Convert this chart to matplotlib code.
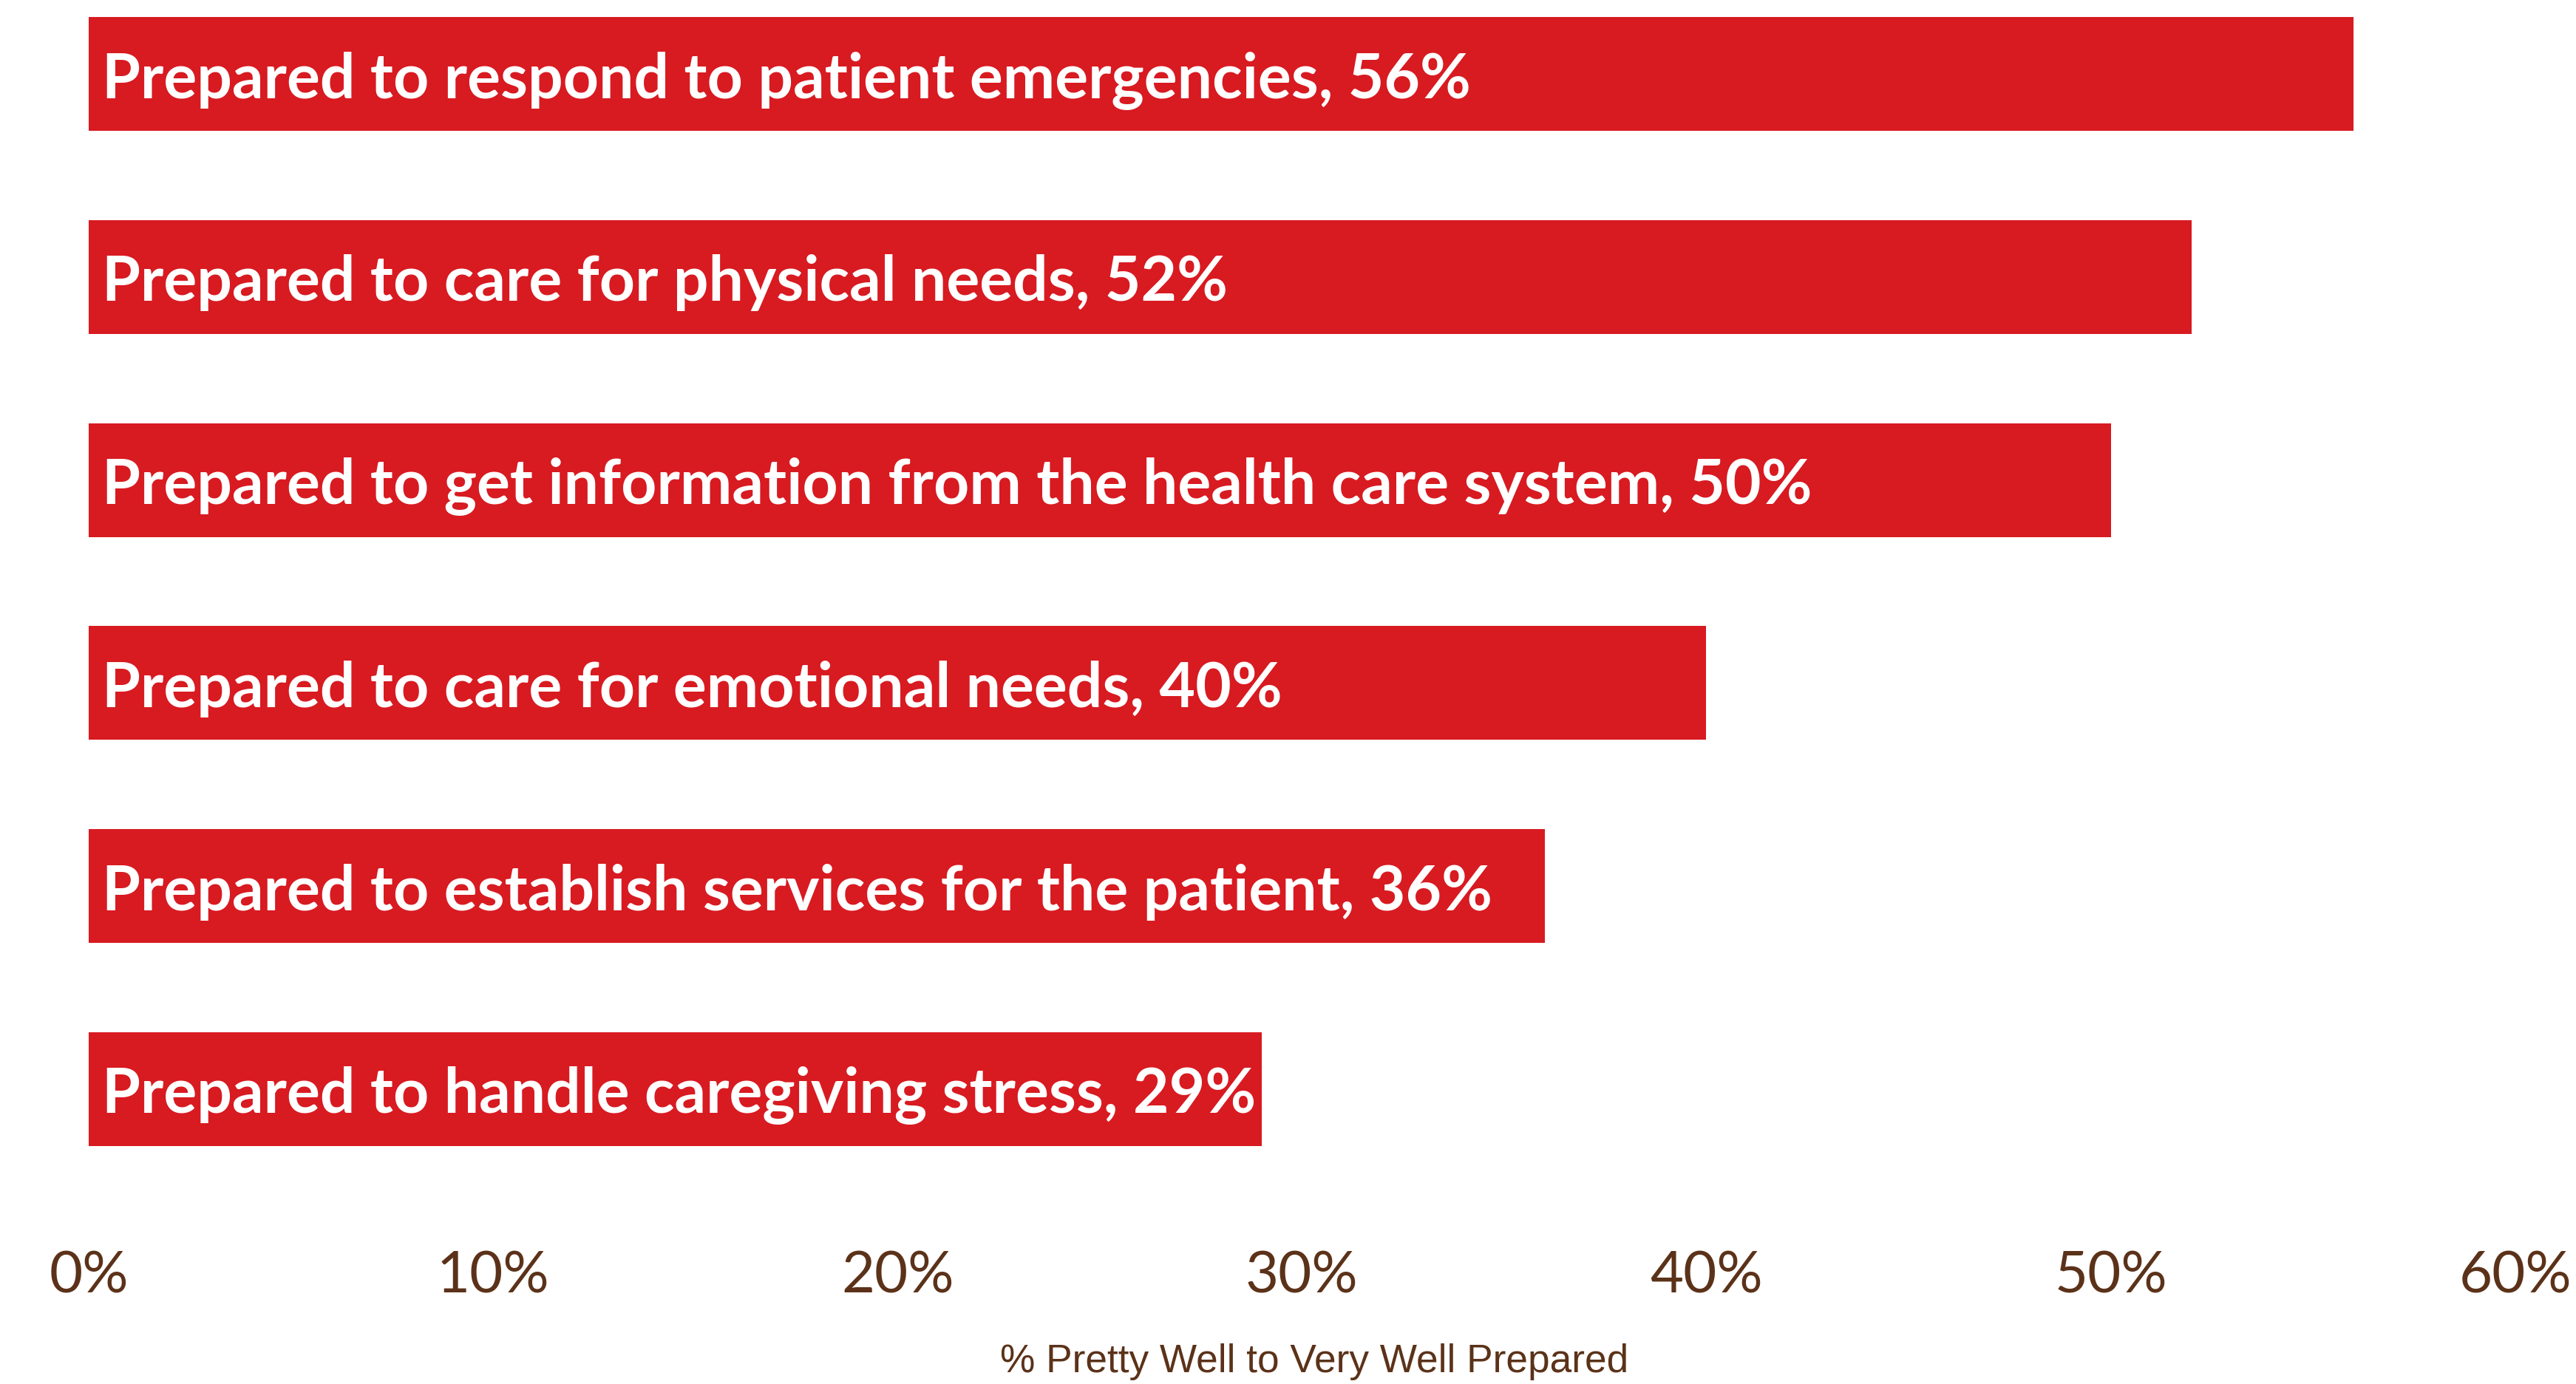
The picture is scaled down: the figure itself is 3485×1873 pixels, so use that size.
import matplotlib
matplotlib.use('Agg')
import matplotlib.pyplot as plt
import numpy as np

categories = [
    'Prepared to respond to patient emergencies',
    'Prepared to care for physical needs',
    'Prepared to get information from the health care system',
    'Prepared to care for emotional needs',
    'Prepared to establish services for the patient',
    'Prepared to handle caregiving stress',
]
values = [56, 52, 50, 40, 36, 29]
xticks = [0, 10, 20, 30, 40, 50, 60]
xtick_labels = ['0%', '10%', '20%', '30%', '40%', '50%', '60%']

bar_color = '#D81A21'
text_brown = '#5B3219'

fig = plt.figure(figsize=(34.85, 18.74), dpi=100)
ax = fig.add_axes([0.0344, 0.146, 0.942, 0.854])

y = np.arange(len(categories))
ax.barh(y, values, height=0.56, color=bar_color)

# labels inside the bars
for yi, cat, v in zip(y, categories, values):
    ax.annotate(f'{cat}, {v}%', xy=(0, yi), xytext=(13, -5), textcoords='offset points',
                ha='left', va='center', color='white', fontsize=60.5,
                fontweight='bold', family='Lato')

ax.set_xlim(0, 60)
ax.set_ylim(5.457, -0.368)
ax.set_xticks(xticks)
ax.set_xticklabels(xtick_labels, fontsize=56, color=text_brown, family='Lato')
ax.set_yticks([])
ax.tick_params(axis='x', length=0, pad=66)
for s in ax.spines.values():
    s.set_visible(False)

fig.text(0.5102, 0.0166, '% Pretty Well to Very Well Prepared', ha='center', va='center',
         fontsize=38.3, color=text_brown, family='Liberation Sans')

fig.savefig('out.png', dpi=100, facecolor='white')
